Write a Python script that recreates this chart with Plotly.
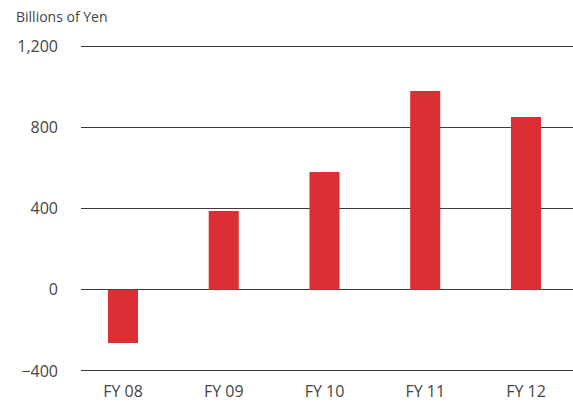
import plotly.graph_objects as go

# Fiscal-year results, billions of yen
fiscal_years = ["FY 08", "FY 09", "FY 10", "FY 11", "FY 12"]
values = [-262, 388, 580, 979, 851]

y_tick_vals = [-400, 0, 400, 800, 1200]
y_tick_text = ["\u2212400", "0", "400", "800", "1,200"]

BAR_RED = "#DB2F35"
TEXT = "#444444"
GRID = "#3c3c3c"
FONT = "Open Sans"

fig = go.Figure(
    go.Bar(
        x=list(range(len(fiscal_years))),
        y=values,
        width=0.298,
        marker=dict(color=BAR_RED, line=dict(width=0)),
        hoverinfo="skip",
    )
)

fig.update_layout(
    width=573,
    height=403,
    margin=dict(l=81, r=0, t=45, b=31),
    paper_bgcolor="white",
    plot_bgcolor="white",
    showlegend=False,
    font=dict(family=FONT, color=TEXT, size=16),
    xaxis=dict(
        range=[-0.417, 4.467],
        tickmode="array",
        tickvals=list(range(len(fiscal_years))),
        ticktext=fiscal_years,
        showgrid=False,
        zeroline=False,
        showline=False,
        ticks="",
        ticklabelstandoff=8,
        tickfont=dict(size=16, color=TEXT),
        fixedrange=True,
    ),
    yaxis=dict(
        range=[-405, 1205],
        tickmode="array",
        tickvals=y_tick_vals,
        ticktext=y_tick_text,
        showgrid=True,
        gridcolor=GRID,
        gridwidth=1,
        zeroline=True,
        zerolinecolor=GRID,
        zerolinewidth=1,
        showline=False,
        ticks="",
        ticklabelstandoff=22,
        tickfont=dict(size=16, color=TEXT),
        fixedrange=True,
    ),
    annotations=[
        dict(
            text="Billions of Yen",
            xref="paper",
            yref="paper",
            x=-81 / 492 + 14 / 492,
            y=1.0,
            xanchor="left",
            yanchor="bottom",
            yshift=17,
            showarrow=False,
            font=dict(family=FONT, size=14, color=TEXT),
        )
    ],
)

fig.write_html("out.html")
